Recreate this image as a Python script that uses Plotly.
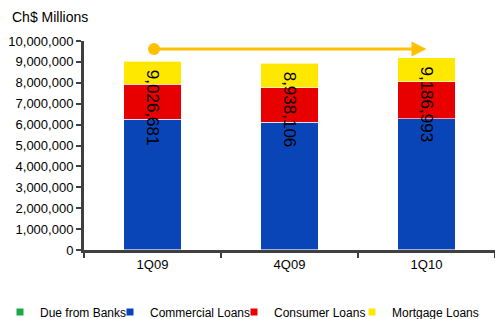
import plotly.graph_objects as go

categories = ["1Q09", "4Q09", "1Q10"]
due_from_banks = [18000, 16000, 17000]
commercial_loans = [6232000, 6094000, 6263000]
consumer_loans = [1680000, 1660000, 1770000]
mortgage_loans = [1096681, 1168106, 1136993]
totals = [9026681, 8938106, 9186993]
total_labels = ["9,026,681", "8,938,106", "9,186,993"]
growth_label = "1.78%"
y_ticks = list(range(0, 10000001, 1000000))
y_tick_labels = [f"{v:,}" for v in y_ticks]

FONT = "Liberation Sans, Arial, sans-serif"

series = [
    ("Due from Banks", due_from_banks, "#1BA847"),
    ("Commercial Loans", commercial_loans, "#0A45B8"),
    ("Consumer Loans", consumer_loans, "#E80000"),
    ("Mortgage Loans", mortgage_loans, "#FFE800"),
]
legend_ids = ["legend", "legend2", "legend3", "legend4"]
legend_text_x = [40, 150, 274, 392]

fig = go.Figure()
for name, vals, col in series:
    fig.add_trace(go.Bar(
        x=categories, y=vals, name=name, showlegend=False,
        marker=dict(color=col, line=dict(color="rgba(255,255,255,0.6)", width=1)),
        hoverinfo="skip",
    ))
# legend entries with small square keys
for (name, vals, col), lid in zip(series, legend_ids):
    fig.add_trace(go.Scatter(
        x=[None], y=[None], name=name, legend=lid, mode="markers",
        marker=dict(symbol="square", size=7, color=col), hoverinfo="skip",
    ))

for cat, tot, lab in zip(categories, totals, total_labels):
    fig.add_annotation(
        x=cat, y=tot, text=lab, textangle=90, showarrow=False,
        xanchor="center", yanchor="top", yshift=-6,
        font=dict(family=FONT, size=17, color="#000000"),
    )

# growth arrow from first to last period
fig.add_annotation(
    x=2, y=9620000, ax=0, ay=9620000, axref="x", ayref="y",
    xref="x", yref="y", text="", showarrow=True,
    arrowhead=2, arrowsize=1, arrowwidth=3, arrowcolor="#FFC000",
    arrowside="end+start", startarrowhead=6, startarrowsize=1,
)
fig.add_annotation(
    x=1, y=10430000, text=growth_label, showarrow=False,
    font=dict(family=FONT, size=15, color="#FFC000"),
)
fig.add_annotation(
    xref="paper", yref="paper", x=-0.180, y=1.115,
    xanchor="left", yanchor="middle",
    text="Ch$ Millions", showarrow=False,
    font=dict(family=FONT, size=14, color="#000000"),
)

layout_legends = {}
for lid, tx in zip(legend_ids, legend_text_x):
    layout_legends[lid] = dict(
        orientation="h", xref="container", yref="container",
        x=(tx - 40) / 495, xanchor="left", y=(319 - 312) / 319, yanchor="middle",
        font=dict(family=FONT, size=12, color="#000000"),
        bgcolor="rgba(0,0,0,0)", itemwidth=30,
    )

fig.update_layout(
    width=495, height=319,
    margin=dict(l=84, r=0, t=41, b=69),
    barmode="stack", bargap=0.58,
    plot_bgcolor="white", paper_bgcolor="white",
    font=dict(family=FONT, size=13, color="#000000"),
    showlegend=True,
    **layout_legends,
    xaxis=dict(
        showline=True, linecolor="#404040", linewidth=3,
        ticks="outside", tickson="boundaries", ticklen=5, tickwidth=2, tickcolor="#404040",
        tickfont=dict(family=FONT, size=13), showgrid=False, fixedrange=True,
        automargin=False,
    ),
    yaxis=dict(
        range=[0, 10000000], tickvals=y_ticks, ticktext=y_tick_labels,
        showline=True, linecolor="#404040", linewidth=3,
        ticks="outside", ticklen=5, tickwidth=2, tickcolor="#404040",
        tickfont=dict(family=FONT, size=13), showgrid=False, zeroline=False,
        fixedrange=True, automargin=False,
    ),
)

fig.write_html(
    "out.html",
    config={"displayModeBar": False},
    post_script="document.body.style.margin='0';document.body.style.overflow='hidden';",
)
